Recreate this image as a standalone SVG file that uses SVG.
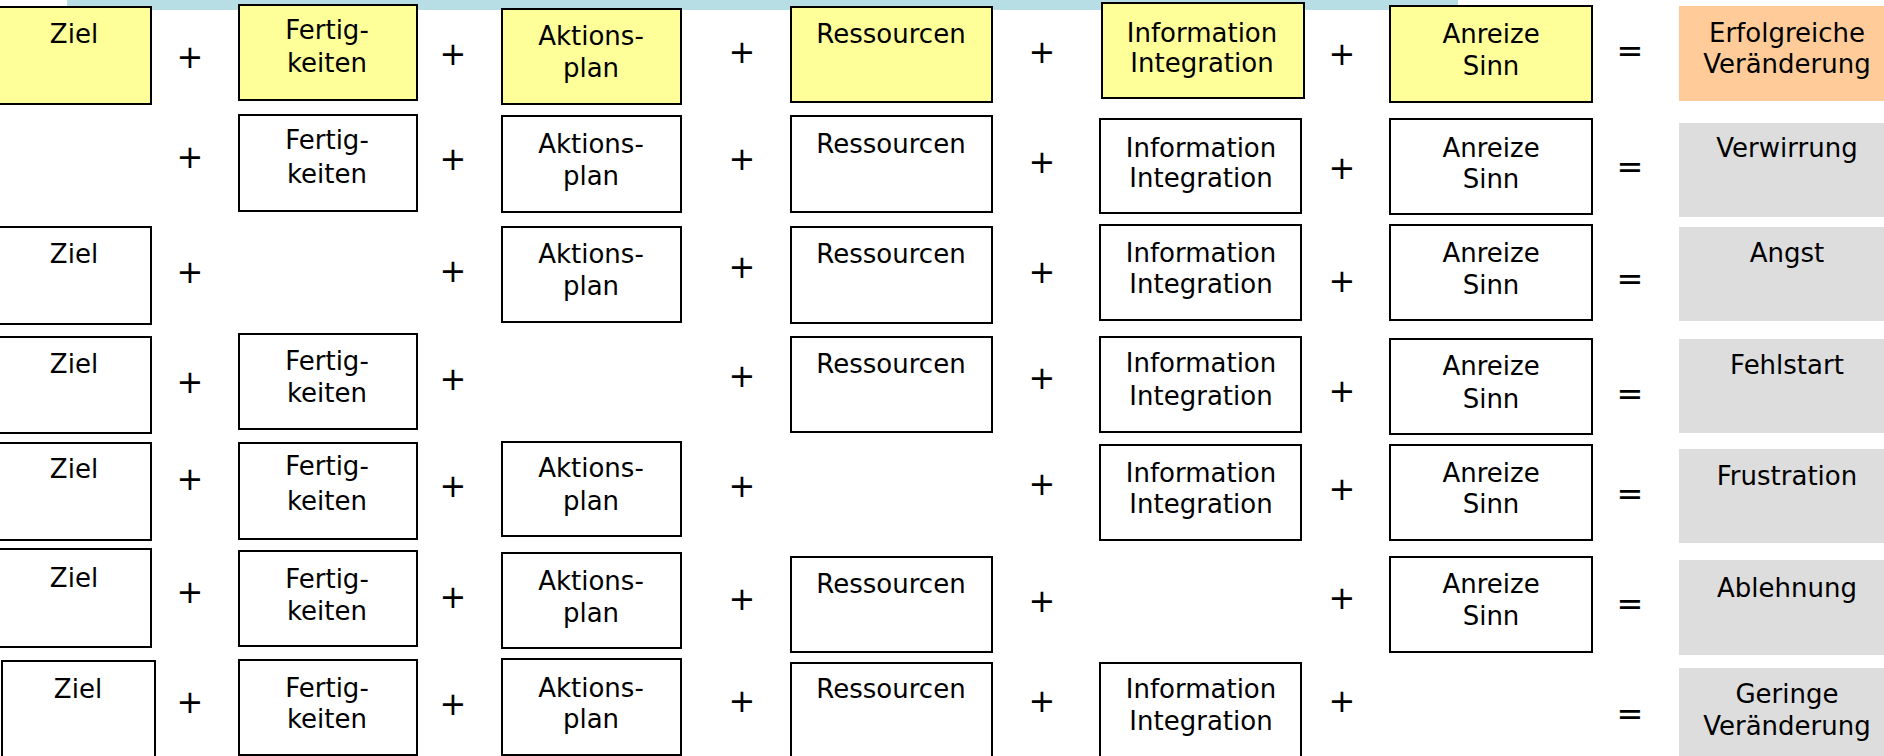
<svg xmlns="http://www.w3.org/2000/svg" width="1884" height="756" viewBox="0 0 1884 756">
<style>
.b{stroke:#000;stroke-width:2}
.y{fill:#ffff99}
.w{fill:#fff}
.g{fill:#dddddd}
.o{fill:#ffcc99}
text{font-family:"DejaVu Sans",Verdana,sans-serif;font-size:26px;fill:#000;text-anchor:middle}
text.op{font-size:32px}
</style>
<rect width="1884" height="756" fill="#fff"/>
<rect x="67" y="0" width="1391" height="10" fill="#b7dee5"/>
<g id="row1">
<g id="r1-ziel"><rect class="b y" x="-2" y="7" width="153" height="97"/><text x="74" y="43">Ziel</text></g>
<g id="r1-fert"><rect class="b y" x="239" y="5" width="178" height="95"/><text x="327" y="39">Fertig-</text><text x="327" y="72">keiten</text></g>
<g id="r1-akt"><rect class="b y" x="502" y="9" width="179" height="95"/><text x="591" y="45">Aktions-</text><text x="591" y="77">plan</text></g>
<g id="r1-res"><rect class="b y" x="791" y="7" width="201" height="95"/><text x="891" y="43">Ressourcen</text></g>
<g id="r1-info"><rect class="b y" x="1102" y="3" width="202" height="95"/><text x="1202" y="42">Information</text><text x="1202" y="72">Integration</text></g>
<g id="r1-anr"><rect class="b y" x="1390" y="6" width="202" height="96"/><text x="1491" y="43">Anreize</text><text x="1491" y="75">Sinn</text></g>
<g id="r1-result"><rect class="o" x="1679" y="6" width="210" height="95"/><text x="1787" y="42">Erfolgreiche</text><text x="1787" y="73">Veränderung</text></g>
</g>
<g id="row2">
<g id="r2-fert"><rect class="b w" x="239" y="115" width="178" height="96"/><text x="327" y="149">Fertig-</text><text x="327" y="183">keiten</text></g>
<g id="r2-akt"><rect class="b w" x="502" y="116" width="179" height="96"/><text x="591" y="153">Aktions-</text><text x="591" y="185">plan</text></g>
<g id="r2-res"><rect class="b w" x="791" y="116" width="201" height="96"/><text x="891" y="153">Ressourcen</text></g>
<g id="r2-info"><rect class="b w" x="1100" y="119" width="201" height="94"/><text x="1201" y="157">Information</text><text x="1201" y="187">Integration</text></g>
<g id="r2-anr"><rect class="b w" x="1390" y="119" width="202" height="95"/><text x="1491" y="157">Anreize</text><text x="1491" y="188">Sinn</text></g>
<g id="r2-result"><rect class="g" x="1679" y="123" width="210" height="94"/><text x="1787" y="157">Verwirrung</text></g>
</g>
<g id="row3">
<g id="r3-ziel"><rect class="b w" x="-2" y="227" width="153" height="97"/><text x="74" y="263">Ziel</text></g>
<g id="r3-akt"><rect class="b w" x="502" y="227" width="179" height="95"/><text x="591" y="263">Aktions-</text><text x="591" y="295">plan</text></g>
<g id="r3-res"><rect class="b w" x="791" y="227" width="201" height="96"/><text x="891" y="263">Ressourcen</text></g>
<g id="r3-info"><rect class="b w" x="1100" y="225" width="201" height="95"/><text x="1201" y="262">Information</text><text x="1201" y="293">Integration</text></g>
<g id="r3-anr"><rect class="b w" x="1390" y="225" width="202" height="95"/><text x="1491" y="262">Anreize</text><text x="1491" y="294">Sinn</text></g>
<g id="r3-result"><rect class="g" x="1679" y="227" width="210" height="94"/><text x="1787" y="262">Angst</text></g>
</g>
<g id="row4">
<g id="r4-ziel"><rect class="b w" x="-2" y="337" width="153" height="96"/><text x="74" y="373">Ziel</text></g>
<g id="r4-fert"><rect class="b w" x="239" y="334" width="178" height="95"/><text x="327" y="370">Fertig-</text><text x="327" y="402">keiten</text></g>
<g id="r4-res"><rect class="b w" x="791" y="337" width="201" height="95"/><text x="891" y="373">Ressourcen</text></g>
<g id="r4-info"><rect class="b w" x="1100" y="337" width="201" height="95"/><text x="1201" y="372">Information</text><text x="1201" y="405">Integration</text></g>
<g id="r4-anr"><rect class="b w" x="1390" y="339" width="202" height="95"/><text x="1491" y="375">Anreize</text><text x="1491" y="408">Sinn</text></g>
<g id="r4-result"><rect class="g" x="1679" y="339" width="210" height="94"/><text x="1787" y="374">Fehlstart</text></g>
</g>
<g id="row5">
<g id="r5-ziel"><rect class="b w" x="-2" y="443" width="153" height="97"/><text x="74" y="478">Ziel</text></g>
<g id="r5-fert"><rect class="b w" x="239" y="443" width="178" height="96"/><text x="327" y="475">Fertig-</text><text x="327" y="510">keiten</text></g>
<g id="r5-akt"><rect class="b w" x="502" y="442" width="179" height="94"/><text x="591" y="477">Aktions-</text><text x="591" y="510">plan</text></g>
<g id="r5-info"><rect class="b w" x="1100" y="445" width="201" height="95"/><text x="1201" y="482">Information</text><text x="1201" y="513">Integration</text></g>
<g id="r5-anr"><rect class="b w" x="1390" y="445" width="202" height="95"/><text x="1491" y="482">Anreize</text><text x="1491" y="513">Sinn</text></g>
<g id="r5-result"><rect class="g" x="1679" y="449" width="210" height="94"/><text x="1787" y="485">Frustration</text></g>
</g>
<g id="row6">
<g id="r6-ziel"><rect class="b w" x="-2" y="549" width="153" height="98"/><text x="74" y="587">Ziel</text></g>
<g id="r6-fert"><rect class="b w" x="239" y="551" width="178" height="95"/><text x="327" y="588">Fertig-</text><text x="327" y="620">keiten</text></g>
<g id="r6-akt"><rect class="b w" x="502" y="553" width="179" height="95"/><text x="591" y="590">Aktions-</text><text x="591" y="622">plan</text></g>
<g id="r6-res"><rect class="b w" x="791" y="557" width="201" height="95"/><text x="891" y="593">Ressourcen</text></g>
<g id="r6-anr"><rect class="b w" x="1390" y="557" width="202" height="95"/><text x="1491" y="593">Anreize</text><text x="1491" y="625">Sinn</text></g>
<g id="r6-result"><rect class="g" x="1679" y="560" width="210" height="95"/><text x="1787" y="597">Ablehnung</text></g>
</g>
<g id="row7">
<g id="r7-ziel"><rect class="b w" x="2" y="661" width="153" height="100"/><text x="78" y="698">Ziel</text></g>
<g id="r7-fert"><rect class="b w" x="239" y="660" width="178" height="95"/><text x="327" y="697">Fertig-</text><text x="327" y="728">keiten</text></g>
<g id="r7-akt"><rect class="b w" x="502" y="659" width="179" height="96"/><text x="591" y="697">Aktions-</text><text x="591" y="728">plan</text></g>
<g id="r7-res"><rect class="b w" x="791" y="663" width="201" height="100"/><text x="891" y="698">Ressourcen</text></g>
<g id="r7-info"><rect class="b w" x="1100" y="663" width="201" height="100"/><text x="1201" y="698">Information</text><text x="1201" y="730">Integration</text></g>
<g id="r7-result"><rect class="g" x="1679" y="668" width="210" height="95"/><text x="1787" y="703">Geringe</text><text x="1787" y="735">Veränderung</text></g>
</g>
<g id="operators">
<text class="op" x="190" y="68">+</text><text class="op" x="453" y="65">+</text><text class="op" x="742" y="63">+</text><text class="op" x="1042" y="63">+</text><text class="op" x="1342" y="65">+</text><text class="op" x="1630" y="62">=</text>
<text class="op" x="190" y="168">+</text><text class="op" x="453" y="170">+</text><text class="op" x="742" y="170">+</text><text class="op" x="1042" y="173">+</text><text class="op" x="1342" y="179">+</text><text class="op" x="1630" y="178">=</text>
<text class="op" x="190" y="283">+</text><text class="op" x="453" y="282">+</text><text class="op" x="742" y="278">+</text><text class="op" x="1042" y="283">+</text><text class="op" x="1342" y="292">+</text><text class="op" x="1630" y="290">=</text>
<text class="op" x="190" y="393">+</text><text class="op" x="453" y="390">+</text><text class="op" x="742" y="387">+</text><text class="op" x="1042" y="389">+</text><text class="op" x="1342" y="402">+</text><text class="op" x="1630" y="405">=</text>
<text class="op" x="190" y="490">+</text><text class="op" x="453" y="497">+</text><text class="op" x="742" y="497">+</text><text class="op" x="1042" y="495">+</text><text class="op" x="1342" y="500">+</text><text class="op" x="1630" y="505">=</text>
<text class="op" x="190" y="603">+</text><text class="op" x="453" y="608">+</text><text class="op" x="742" y="610">+</text><text class="op" x="1042" y="612">+</text><text class="op" x="1342" y="609">+</text><text class="op" x="1630" y="615">=</text>
<text class="op" x="190" y="713">+</text><text class="op" x="453" y="715">+</text><text class="op" x="742" y="712">+</text><text class="op" x="1042" y="712">+</text><text class="op" x="1342" y="712">+</text><text class="op" x="1630" y="725">=</text>
</g>
</svg>
